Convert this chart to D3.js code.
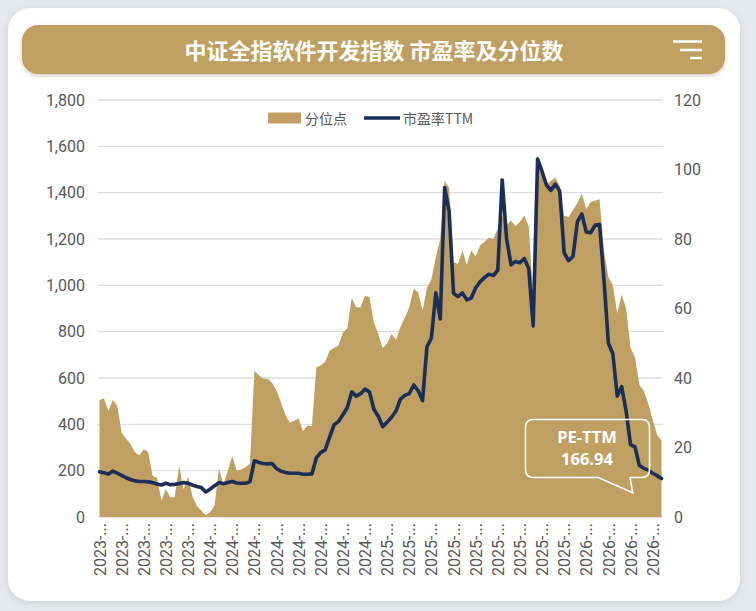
<!DOCTYPE html>
<html>
<head>
<meta charset="utf-8">
<script src="https://cdn.jsdelivr.net/npm/d3@7/dist/d3.min.js"></script>
<style>
  body { margin: 0; background: #e8e9ee; }
  svg { display: block; }
  text { font-family: Roboto, "Noto Sans CJK SC", sans-serif; }
</style>
</head>
<body>
<div id="chart"></div>
<script>
// 分位点 (left axis) and 市盈率TTM (right axis), one value per period
const pctPoints = [
  505, 513, 458, 505, 480, 365, 338, 315, 280, 265,
  292, 280, 178, 168, 70, 120, 85, 85, 220, 120,
  175, 90, 48, 28, 8, 20, 50, 210, 138, 200,
  262, 200, 205, 215, 230, 630, 612, 598, 596, 580,
  545, 495, 440, 408, 415, 425, 370, 395, 392, 645,
  655, 670, 718, 730, 740, 795, 815, 945, 905, 905,
  955, 950, 840, 790, 728, 750, 790, 765, 820, 860,
  905, 985, 970, 890, 990, 1025, 1120, 1200, 1450, 1420,
  1100, 1092, 1150, 1090, 1150, 1125, 1172, 1188, 1205, 1200,
  1245, 1300, 1260, 1280, 1255, 1275, 1300, 1255, 950, 1530,
  1480, 1435, 1450, 1465, 1430, 1300, 1295, 1325, 1355, 1395,
  1330, 1360, 1366, 1372, 1150, 1035, 1000, 880, 960, 900,
  730, 690, 570, 545, 490, 420, 355, 330
];
const peTTM = [
  13.0, 12.7, 12.4, 13.2, 12.6, 12.0, 11.3, 10.8, 10.4, 10.2,
  10.2, 10.1, 9.9, 9.5, 9.2, 9.7, 9.3, 9.4, 9.6, 9.9,
  9.7, 9.2, 8.8, 8.5, 7.2, 8.0, 9.0, 9.9, 9.6, 9.9,
  10.2, 9.8, 9.7, 9.7, 10.2, 16.2, 15.7, 15.4, 15.3, 15.4,
  13.9, 13.2, 12.8, 12.6, 12.6, 12.6, 12.3, 12.3, 12.4, 17.0,
  18.6, 19.3, 23.0, 26.5, 27.5, 29.4, 31.5, 36.0, 34.8, 35.5,
  36.8, 36.0, 31.0, 29.0, 26.0, 27.3, 28.7, 30.5, 33.9, 35.0,
  35.5, 38.0, 36.4, 33.5, 49.0, 51.5, 64.5, 57.0, 94.8, 88.0,
  64.4, 63.4, 64.5, 62.5, 63.0, 65.9, 67.7, 68.9, 69.9, 69.5,
  71.0, 97.0, 80.0, 72.6, 73.5, 73.2, 74.4, 71.5, 55.0, 103.0,
  99.5, 95.5, 94.0, 95.8, 93.8, 76.0, 73.8, 75.0, 85.0, 87.2,
  82.0, 81.8, 84.0, 84.2, 68.2, 50.0, 47.0, 34.8, 37.5, 30.5,
  20.8, 20.2, 14.8, 14.0, 13.5, 12.6, 11.9, 11.1
];
// category labels as shown (truncated), one every 5 periods
const tickLabels = [
  "2023-...", "2023-...", "2023-...", "2023-...", "2023-...",
  "2024-...", "2024-...", "2024-...", "2024-...", "2024-...", "2024-...", "2024-...", "2024-...",
  "2025-...", "2025-...", "2025-...", "2025-...", "2025-...", "2025-...", "2025-...", "2025-...", "2025-...",
  "2026-...", "2026-...", "2026-...", "2026-..."
];
const leftTicks = [0, 200, 400, 600, 800, 1000, 1200, 1400, 1600, 1800];
const rightTicks = [0, 20, 40, 60, 80, 100, 120];
const title = "中证全指软件开发指数 市盈率及分位数";
const lastPE = "166.94";

const W = 756, H = 611;
const gold = "#bfa062", navy = "#1a2e58";
const idx = d3.range(pctPoints.length);

const svg = d3.select("#chart").append("svg")
  .attr("width", W).attr("height", H);

const defs = svg.append("defs");
const sh = defs.append("filter").attr("id", "shadow")
  .attr("x", "-10%").attr("y", "-10%").attr("width", "120%").attr("height", "120%");
sh.append("feDropShadow").attr("dx", 0).attr("dy", 2).attr("stdDeviation", 4)
  .attr("flood-color", "#9aa0b0").attr("flood-opacity", 0.35);
const sh2 = defs.append("filter").attr("id", "shadow2")
  .attr("x", "-5%").attr("y", "-20%").attr("width", "110%").attr("height", "150%");
sh2.append("feDropShadow").attr("dx", 0).attr("dy", 2).attr("stdDeviation", 2)
  .attr("flood-color", "#8a7040").attr("flood-opacity", 0.35);

// card
svg.append("rect").attr("x", 8).attr("y", 8).attr("width", 732).attr("height", 593)
  .attr("rx", 22).attr("fill", "#fff").attr("filter", "url(#shadow)");

// title bar
svg.append("rect").attr("x", 22).attr("y", 25).attr("width", 703).attr("height", 49)
  .attr("rx", 16).attr("fill", gold).attr("filter", "url(#shadow2)");
svg.append("text").attr("x", 374).attr("y", 49)
  .attr("text-anchor", "middle").attr("dominant-baseline", "central")
  .attr("fill", "#fff").attr("font-size", 22).attr("font-weight", 700)
  .style("font-family", "'Noto Sans CJK SC', sans-serif")
  .text(title);
const menu = svg.append("g").attr("stroke", "#fff").attr("stroke-width", 2.5);
menu.append("line").attr("x1", 673).attr("x2", 702).attr("y1", 41.5).attr("y2", 41.5);
menu.append("line").attr("x1", 680).attr("x2", 702).attr("y1", 50).attr("y2", 50);
menu.append("line").attr("x1", 690).attr("x2", 702).attr("y1", 58).attr("y2", 58);

// scales
const x = d3.scalePoint().domain(idx).range([99.5, 661.5]);
const yL = d3.scaleLinear().domain([0, 1800]).range([517, 100]);
const yR = d3.scaleLinear().domain([0, 120]).range([517, 100]);

// grid
svg.append("g").selectAll("line").data(leftTicks).join("line")
  .attr("x1", 98).attr("x2", 663)
  .attr("y1", d => yL(d)).attr("y2", d => yL(d))
  .attr("stroke", "#dedee2").attr("stroke-width", 1.4);

// area
svg.append("path").datum(idx)
  .attr("fill", gold)
  .attr("d", d3.area().x(i => x(i)).y0(yL(0)).y1(i => yL(pctPoints[i])));

// line
svg.append("path").datum(idx)
  .attr("fill", "none").attr("stroke", navy).attr("stroke-width", 3.6)
  .attr("stroke-linejoin", "round").attr("stroke-linecap", "round")
  .attr("d", d3.line().x(i => x(i)).y(i => yR(peTTM[i])));

// axes
const axL = svg.append("g").attr("transform", "translate(85,0)")
  .call(d3.axisLeft(yL).tickValues(leftTicks).tickFormat(d3.format(",")).tickSize(0));
const axR = svg.append("g").attr("transform", "translate(674,0)")
  .call(d3.axisRight(yR).tickValues(rightTicks).tickSize(0));
[axL, axR].forEach(a => {
  a.select(".domain").remove();
  a.selectAll("text").attr("font-size", 16).attr("fill", "#595959")
    .style("font-family", "Roboto, sans-serif");
});
axL.selectAll("text").attr("x", 0);
axR.selectAll("text").attr("x", 0);

const axB = svg.append("g").attr("transform", `translate(0,${yL(0)})`)
  .call(d3.axisBottom(x).tickValues(idx.filter(i => i % 5 === 0))
    .tickFormat(i => tickLabels[i / 5]).tickSize(0));
axB.select(".domain").remove();
axB.selectAll("text")
  .attr("transform", "rotate(-90)")
  .attr("text-anchor", "end")
  .attr("x", -6).attr("y", 0).attr("dy", "0.35em")
  .attr("font-size", 16).attr("fill", "#595959")
  .style("font-family", "Roboto, sans-serif");

// legend
const lg = svg.append("g").attr("font-size", 14).attr("fill", "#595959");
lg.append("rect").attr("x", 268).attr("y", 112.5).attr("width", 33).attr("height", 11).attr("fill", gold);
lg.append("text").attr("x", 305).attr("y", 118).attr("dominant-baseline", "central")
  .style("font-family", "'Noto Sans CJK SC', sans-serif").text("分位点");
lg.append("line").attr("x1", 364).attr("x2", 400).attr("y1", 118).attr("y2", 118)
  .attr("stroke", navy).attr("stroke-width", 3.6);
lg.append("text").attr("x", 403).attr("y", 118).attr("dominant-baseline", "central")
  .style("font-family", "'Noto Sans CJK SC', sans-serif").text("市盈率TTM");

// callout for last PE
const co = svg.append("g");
co.append("path")
  .attr("d", "M533.5,419.5 H641.5 Q649.5,419.5 649.5,427.5 V469.5 Q649.5,477.5 641.5,477.5 H630 L632.7,492.7 L598.3,477.5 H533.5 Q525.5,477.5 525.5,469.5 V427.5 Q525.5,419.5 533.5,419.5 Z")
  .attr("fill", "none").attr("stroke", "#fff").attr("stroke-width", 1.6);
co.append("text").attr("x", 587).attr("y", 443).attr("text-anchor", "middle")
  .attr("fill", "#fff").attr("font-size", 16.5).attr("font-weight", 700)
  .style("font-family", "'Open Sans', sans-serif").text("PE-TTM");
co.append("text").attr("x", 587).attr("y", 465).attr("text-anchor", "middle")
  .attr("fill", "#fff").attr("font-size", 16.5).attr("font-weight", 700)
  .style("font-family", "'Open Sans', sans-serif").text(lastPE);
</script>
</body>
</html>
